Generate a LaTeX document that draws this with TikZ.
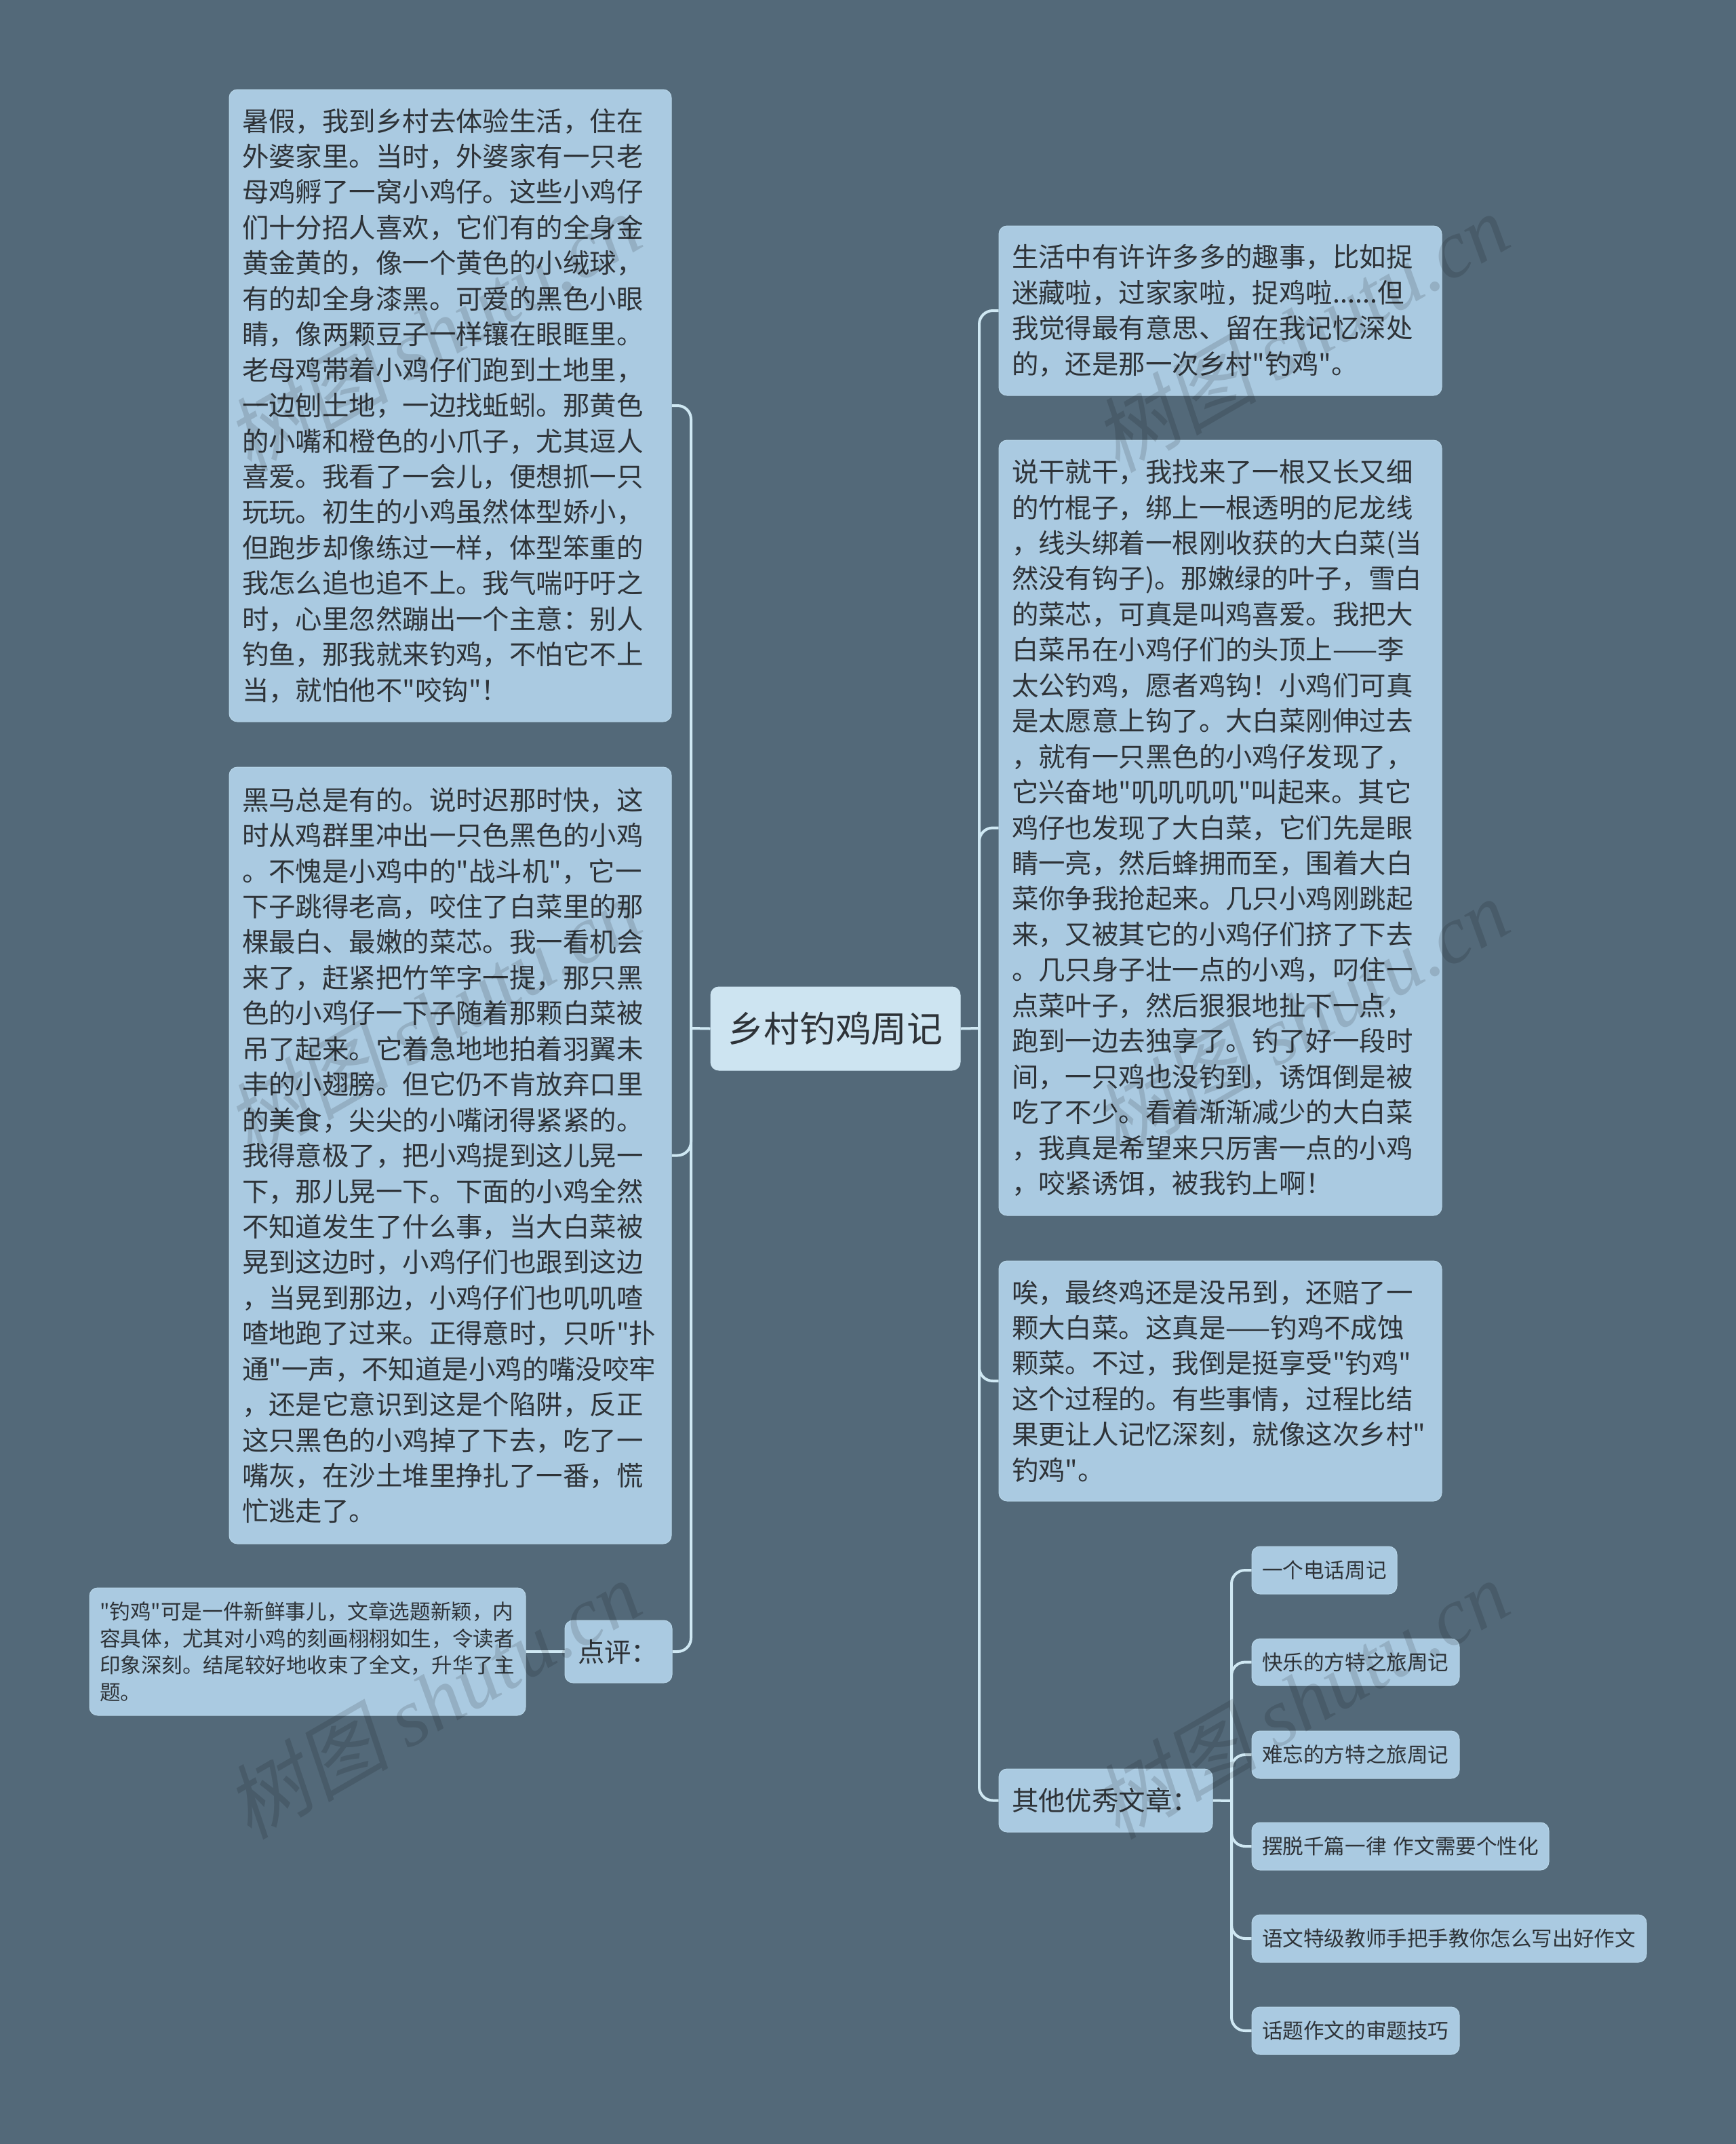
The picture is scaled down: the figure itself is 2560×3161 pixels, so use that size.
\documentclass[tikz,border=0pt]{standalone}
\usepackage{fontspec}
\newfontfamily\cjkmain{Noto Sans CJK SC}
\newfontfamily\wmcjk{Noto Sans CJK SC}[FakeSlant=0.2]
\newfontfamily\wmlatin{Liberation Serif}[ItalicFont={* Italic}]
\definecolor{bgc}{HTML}{536979}
\definecolor{boxc}{HTML}{AACAE1}
\definecolor{boxe}{HTML}{B7D5E8}
\definecolor{rootc}{HTML}{CDE4F1}
\definecolor{linkc}{HTML}{CFE8F3}
\definecolor{txtc}{HTML}{2E3338}
\tikzset{
  x=0.5pt,y=-0.5pt,
  card/.style={rectangle,rounded corners=6pt,fill=boxc,draw=boxe,line width=0.5pt,text=txtc,inner sep=0pt,align=left},
  bigcard/.style={card,font=\cjkmain\fontsize{19.72pt}{26.22pt}\selectfont},
  smallcard/.style={card,font=\cjkmain\fontsize{15.3pt}{19.75pt}\selectfont},
  rootcard/.style={card,fill=rootc,draw=rootc,align=center,font=\cjkmain\fontsize{26.4pt}{32pt}\selectfont},
  link/.style={draw=linkc,line width=2pt,rounded corners=10pt},
  wm/.style={black,opacity=0.13,rotate=30,inner sep=0pt,font=\wmcjk\fontsize{60.5pt}{70pt}\selectfont}
}
\newcommand\bx[8]{% name style pad x0 y0 x1 y1 text
  \pgfmathsetmacro\bxw{(#6-#4)*0.5}\pgfmathsetmacro\bxh{(#7-#5)*0.5}%
  \node[#2,minimum width=\bxw pt,minimum height=\bxh pt,text width={\bxw pt-#3}] (#1) at ({(#4+#6)/2},{(#5+#7)/2}) {#8};}
\newcommand\wmark[3]{\node[wm] (#1) at (#2,#3) {树图 {\wmlatin\itshape shutu.cn}};}
\begin{document}
\begin{tikzpicture}
\useasboundingbox (0,0) rectangle (2560,3161);
\fill[bgc] (0,0) rectangle (2560,3161);

\coordinate (lbus) at (1019,1516);
\coordinate (rbus) at (1444,1516);
\coordinate (sbus) at (1816,2655);

\pgfdeclarelayer{front}\pgfsetlayers{main,front}
\begin{pgfonlayer}{front}
\bx{root}{rootcard}{0pt}{1048}{1455}{1416}{1578}{乡村钓鸡周记}
\bx{a}{bigcard}{19pt}{338}{132}{990}{1064}{暑假，我到乡村去体验生活，住在\\外婆家里。当时，外婆家有一只老\\母鸡孵了一窝小鸡仔。这些小鸡仔\\们十分招人喜欢，它们有的全身金\\黄金黄的，像一个黄色的小绒球，\\有的却全身漆黑。可爱的黑色小眼\\睛，像两颗豆子一样镶在眼眶里。\\老母鸡带着小鸡仔们跑到土地里，\\一边刨土地，一边找蚯蚓。那黄色\\的小嘴和橙色的小爪子，尤其逗人\\喜爱。我看了一会儿，便想抓一只\\玩玩。初生的小鸡虽然体型娇小，\\但跑步却像练过一样，体型笨重的\\我怎么追也追不上。我气喘吁吁之\\时，心里忽然蹦出一个主意：别人\\钓鱼，那我就来钓鸡，不怕它不上\\当，就怕他不"咬钩"！}
\bx{b}{bigcard}{19pt}{338}{1131}{990}{2276}{黑马总是有的。说时迟那时快，这\\时从鸡群里冲出一只色黑色的小鸡\\。不愧是小鸡中的"战斗机"，它一\\下子跳得老高，咬住了白菜里的那\\棵最白、最嫩的菜芯。我一看机会\\来了，赶紧把竹竿字一提，那只黑\\色的小鸡仔一下子随着那颗白菜被\\吊了起来。它着急地地拍着羽翼未\\丰的小翅膀。但它仍不肯放弃口里\\的美食，尖尖的小嘴闭得紧紧的。\\我得意极了，把小鸡提到这儿晃一\\下，那儿晃一下。下面的小鸡全然\\不知道发生了什么事，当大白菜被\\晃到这边时，小鸡仔们也跟到这边\\，当晃到那边，小鸡仔们也叽叽喳\\喳地跑了过来。正得意时，只听"扑\\通"一声，不知道是小鸡的嘴没咬牢\\，还是它意识到这是个陷阱，反正\\这只黑色的小鸡掉了下去，吃了一\\嘴灰，在沙土堆里挣扎了一番，慌\\忙逃走了。}
\bx{dp}{bigcard}{19pt}{833}{2389}{991}{2481}{点评：}
\bx{dpt}{smallcard}{15pt}{132}{2341}{775}{2529}{"钓鸡"可是一件新鲜事儿，文章选题新颖，内\\容具体，尤其对小鸡的刻画栩栩如生，令读者\\印象深刻。结尾较好地收束了全文，升华了主\\题。}
\bx{r1}{bigcard}{19pt}{1473}{333}{2126}{583}{生活中有许许多多的趣事，比如捉\\迷藏啦，过家家啦，捉鸡啦......但\\我觉得最有意思、留在我记忆深处\\的，还是那一次乡村"钓鸡"。}
\bx{r2}{bigcard}{19pt}{1473}{649}{2126}{1792}{说干就干，我找来了一根又长又细\\的竹棍子，绑上一根透明的尼龙线\\，线头绑着一根刚收获的大白菜(当\\然没有钩子)。那嫩绿的叶子，雪白\\的菜芯，可真是叫鸡喜爱。我把大\\白菜吊在小鸡仔们的头顶上——李\\太公钓鸡，愿者鸡钩！小鸡们可真\\是太愿意上钩了。大白菜刚伸过去\\，就有一只黑色的小鸡仔发现了，\\它兴奋地"叽叽叽叽"叫起来。其它\\鸡仔也发现了大白菜，它们先是眼\\睛一亮，然后蜂拥而至，围着大白\\菜你争我抢起来。几只小鸡刚跳起\\来，又被其它的小鸡仔们挤了下去\\。几只身子壮一点的小鸡，叼住一\\点菜叶子，然后狠狠地扯下一点，\\跑到一边去独享了。钓了好一段时\\间，一只鸡也没钓到，诱饵倒是被\\吃了不少。看着渐渐减少的大白菜\\，我真是希望来只厉害一点的小鸡\\，咬紧诱饵，被我钓上啊！}
\bx{r3}{bigcard}{19pt}{1473}{1859}{2126}{2213}{唉，最终鸡还是没吊到，还赔了一\\颗大白菜。这真是——钓鸡不成蚀\\颗菜。不过，我倒是挺享受"钓鸡"\\这个过程的。有些事情，过程比结\\果更让人记忆深刻，就像这次乡村"\\钓鸡"。}
\bx{other}{bigcard}{19pt}{1473}{2608}{1788}{2701}{其他优秀文章：}
\bx{s1}{smallcard}{15pt}{1846}{2280}{2060}{2350}{一个电话周记}
\bx{s2}{smallcard}{15pt}{1846}{2416}{2152}{2485}{快乐的方特之旅周记}
\bx{s3}{smallcard}{15pt}{1846}{2552}{2152}{2622}{难忘的方特之旅周记}
\bx{s4}{smallcard}{15pt}{1846}{2687}{2284}{2757}{摆脱千篇一律 作文需要个性化}
\bx{s5}{smallcard}{15pt}{1846}{2823}{2428}{2893}{语文特级教师手把手教你怎么写出好作文}
\bx{s6}{smallcard}{15pt}{1846}{2959}{2152}{3029}{话题作文的审题技巧}
\end{pgfonlayer}

\draw[link] (root.west) -- (lbus);
\draw[link] (root.east) -- (rbus);
\foreach \t in {a,b,dp}{\draw[link] (lbus) |- (\t.east);}
\foreach \t in {r1,r2,r3,other}{\draw[link] (rbus) |- (\t.west);}
\draw[link] (dp.west) -- (dpt.east);
\draw[link] (other.east) -- (sbus);
\foreach \t in {s1,s2,s3,s4,s5,s6}{\draw[link] (sbus) |- (\t.west);}

\begin{pgfonlayer}{front}
\wmark{w1}{638}{490}
\wmark{w2}{1918}{490}
\wmark{w3}{638}{1500}
\wmark{w4}{1918}{1500}
\wmark{w5}{638}{2505}
\wmark{w6}{1918}{2505}
\end{pgfonlayer}
\end{tikzpicture}
\end{document}
